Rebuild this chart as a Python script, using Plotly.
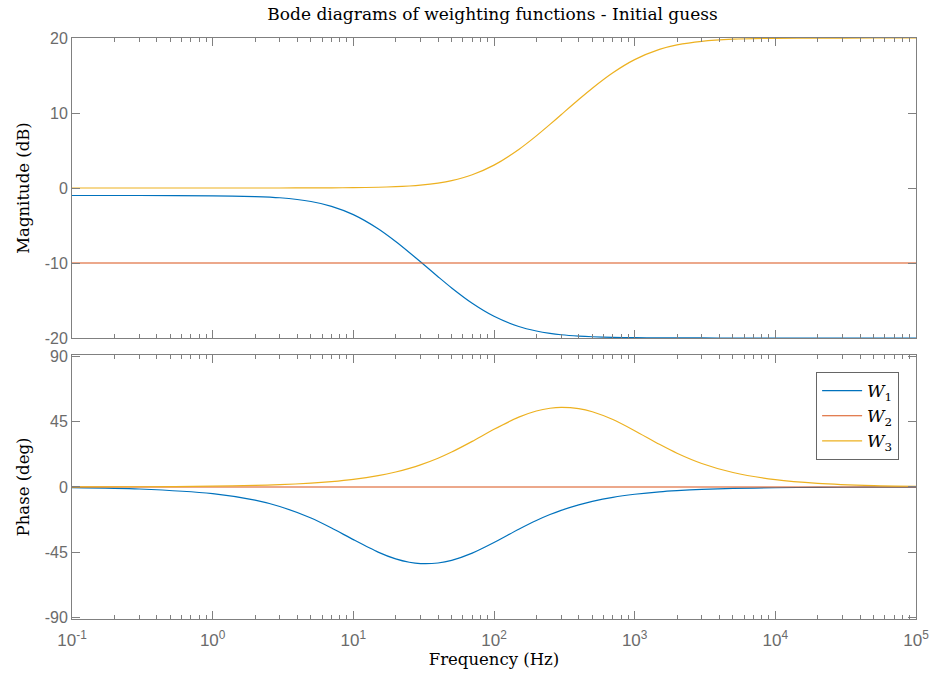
import plotly.graph_objects as go

# Frequency samples (Hz)
freq = [0.1, 0.3, 1, 2, 3, 5, 7, 10, 15, 20, 25, 30, 40, 50, 70, 100, 150, 200, 250, 300,
        400, 500, 700, 1000, 1500, 2000, 3000, 5000, 10000, 20000, 50000, 100000]

# Magnitudes (dB)
w1_mag = [-1.00, -1.00, -1.04, -1.14, -1.30, -1.80, -2.44, -3.55, -5.43, -7.13, -8.59, -9.84,
          -11.82, -13.32, -15.36, -17.10, -18.46, -19.06, -19.38, -19.56, -19.74, -19.83,
          -19.91, -19.95, -19.98, -19.99, -19.99, -20.0, -20.0, -20.0, -20.0, -20.0]
w2_mag = [-10.0] * len(freq)
w3_mag = [0.0, 0.0, 0.0, 0.002, 0.004, 0.011, 0.022, 0.044, 0.10, 0.175, 0.27, 0.385,
          0.66, 0.99, 1.77, 3.05, 5.14, 6.95, 8.48, 9.77, 11.80, 13.31, 15.37, 17.12,
          18.48, 19.08, 19.56, 19.84, 19.96, 19.99, 20.0, 20.0]

# Phases (deg)
w1_ph = [-0.46, -1.38, -4.59, -9.09, -13.43, -21.4, -28.3, -36.3, -44.9, -49.6, -51.9, -52.8,
         -52.4, -50.6, -45.6, -38.3, -29.1, -23.1, -19.0, -16.1, -12.3, -9.9, -7.1, -5.0,
         -3.3, -2.5, -1.67, -1.0, -0.51, -0.25, -0.10, -0.05]
w2_ph = [0.0] * len(freq)
w3_ph = [0.05, 0.16, 0.53, 1.05, 1.58, 2.63, 3.68, 5.24, 7.82, 10.36, 12.85, 15.27, 19.86,
         24.1, 31.45, 39.75, 48.14, 52.37, 54.28, 54.89, 54.03, 51.88, 46.49, 38.82, 29.42,
         23.29, 16.22, 9.97, 5.04, 2.53, 1.01, 0.51]

x_tickvals = [0.1, 1, 10, 100, 1000, 10000, 100000]
x_ticktext = ["10<sup>-1</sup>", "10<sup>0</sup>", "10<sup>1</sup>", "10<sup>2</sup>",
              "10<sup>3</sup>", "10<sup>4</sup>", "10<sup>5</sup>"]
x_minor = [k * 10 ** e for e in range(-1, 5) for k in range(2, 10)]
mag_ticks = [-20, -10, 0, 10, 20]
mag_text = ["-20", "-10", "0", "10", "20"]
ph_ticks = [-90, -45, 0, 45, 90]
ph_text = ["-90", "-45", "0", "45", "90"]

names = ["<i>W</i><sub>1</sub>", "<i>W</i><sub>2</sub>", "<i>W</i><sub>3</sub>"]
colors = ["#0072BD", "#D95319", "#EDB120"]

SERIF = "DejaVu Serif, Liberation Serif, serif"
SANS = "Liberation Sans, Arial, sans-serif"
AXC = "#808080"
TXC = "#6b6b6b"

fig = go.Figure()
for mag, ph, nm, c in zip([w1_mag, w2_mag, w3_mag], [w1_ph, w2_ph, w3_ph], names, colors):
    fig.add_trace(go.Scatter(x=freq, y=mag, mode="lines",
                             line=dict(color=c, width=1.2, shape="spline", smoothing=0.7),
                             showlegend=False, xaxis="x", yaxis="y"))
    fig.add_trace(go.Scatter(x=freq, y=ph, mode="lines",
                             line=dict(color=c, width=1.2, shape="spline", smoothing=0.7),
                             name=nm, showlegend=True, xaxis="x2", yaxis="y2"))

common_x = dict(type="log", range=[-1, 5], showgrid=False, zeroline=False, automargin=False,
                showline=True, linecolor=AXC, linewidth=1, mirror="ticks",
                ticks="inside", ticklen=8, tickcolor=AXC, tickwidth=1,
                tickmode="array", tickvals=x_tickvals, ticktext=x_ticktext,
                minor=dict(tickmode="array", tickvals=x_minor, ticks="inside", ticklen=4, tickcolor=AXC),
                tickfont=dict(family=SANS, size=17, color=TXC), ticklabelstandoff=6)
common_y = dict(showgrid=False, zeroline=False, showline=True, linecolor=AXC, linewidth=1,
                mirror="ticks", ticks="inside", ticklen=8, tickcolor=AXC, automargin=False,
                tickfont=dict(family=SANS, size=16, color=TXC), tickmode="array")

fig.update_layout(
    width=930, height=679,
    margin=dict(l=72, r=14, t=38, b=60),
    paper_bgcolor="white", plot_bgcolor="white",
    title=dict(text="Bode diagrams of weighting functions - Initial guess",
               font=dict(family=SERIF, size=17, color="#000"),
               x=0.5296, xanchor="center", y=1 - 14 / 679, yanchor="middle"),
    xaxis=dict(**common_x, domain=[0, 1], anchor="y", showticklabels=False),
    xaxis2=dict(**common_x, domain=[0, 1], anchor="y2", matches="x",
                title=dict(text="Frequency (Hz)", font=dict(family=SERIF, size=16.5, color="#000"), standoff=4)),
    yaxis=dict(**common_y, domain=[0.4836, 1], range=[-20, 20], tickvals=mag_ticks, ticktext=mag_text,
               title=dict(text="Magnitude (dB)", font=dict(family=SERIF, size=16.5, color="#000"), standoff=10)),
    yaxis2=dict(**common_y, domain=[0, 0.4544], range=[-91, 91], tickvals=ph_ticks, ticktext=ph_text,
                title=dict(text="Phase (deg)", font=dict(family=SERIF, size=16.5, color="#000"), standoff=10)),
    legend=dict(x=0.98, xanchor="right", y=0.425, yanchor="top", xref="paper", yref="paper",
                bgcolor="white", bordercolor="#666", borderwidth=1,
                font=dict(family=SERIF, size=17, color="#000"), tracegroupgap=0, itemwidth=40),
)

fig.write_html("out.html")
